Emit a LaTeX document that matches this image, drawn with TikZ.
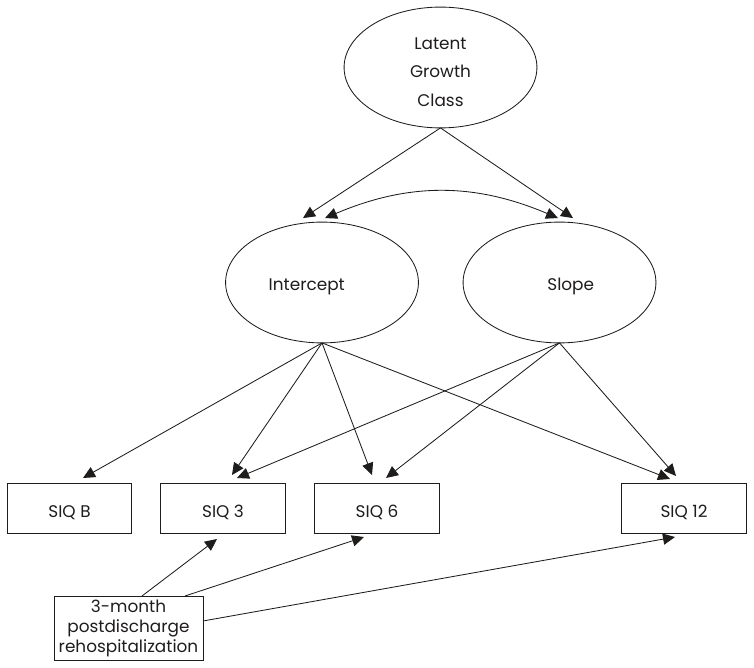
\documentclass[tikz,border=0pt]{standalone}
\usepackage{fontspec}
\setmainfont{Poppins}
\usetikzlibrary{arrows.meta,calc,shapes.geometric}
\definecolor{LineClr}{rgb}{0.12,0.11,0.11}

\begin{document}
\begin{tikzpicture}[x=0.025cm,y=-0.025cm,line width=0.6pt,color=LineClr,
  latent/.style={draw,ellipse,inner sep=0pt,outer sep=0pt,
    minimum width=4.82cm,minimum height=3.02cm},
  obs/.style={draw,rectangle,inner sep=0pt,outer sep=0pt,
    minimum width=3.12cm,minimum height=1.25cm,text height=14pt,text depth=0pt},
  tip/.tip={Triangle[length=3mm,width=2.8mm]},
  arr/.style={-tip},
  every node/.style={font=\fontsize{12}{14.2}\selectfont}]
\useasboundingbox (0,0) rectangle (754,668);

% latent variables
\node[latent,align=center,font=\fontsize{12}{20}\selectfont] (lgc) at (440.5,67.5)
  {\rule{0pt}{15pt}Latent\\Growth\\Class};
\node[latent,label={[xshift=-0.38cm,yshift=-0.1cm]center:Intercept}] (int) at (322,282.5) {};
\node[latent,label={[xshift=0.28cm,yshift=-0.1cm]center:Slope}] (slo) at (559.5,282.5) {};

% observed scores
\node[obs] (siqb) at (69.5,508) {SIQ B};
\node[obs] (siq3) at (223,508) {SIQ 3};
\node[obs] (siq6) at (377,508) {SIQ 6};
\node[obs] (siq12) at (684,508) {SIQ 12};
\node[draw,rectangle,inner sep=0pt,outer sep=0pt,minimum width=3.72cm,
  minimum height=1.6cm,align=center] (rehosp) at (128.5,628)
  {3-month\\postdischarge\\rehospitalization};

\draw[arr] (lgc.south) -- ($(int.north)+(-19,-4)$);
\draw[arr] (lgc.south) -- ($(slo.north)+(13.5,-4)$);
\draw[tip-tip] ($(int.north)+(3,-4)$) to[bend left=23] ($(slo.north)+(-1.5,-4)$);

\draw[arr] (int.south) -- ($(siqb.north)+(13.5,-5)$);
\draw[arr] (int.south) -- ($(siq3.north)+(9,-8)$);
\draw[arr] (int.south) -- ($(siq6.north)+(-5,-8)$);
\draw[arr] (int.south) -- ($(siq12.north)+(-14,-4)$);

\draw[arr] (slo.south) -- ($(siq3.north)+(14,-5)$);
\draw[arr] (slo.south) -- ($(siq6.north)+(9,-5)$);
\draw[arr] (slo.south) -- ($(siq12.north)+(-8,-7)$);

\draw[arr] ($(rehosp.north)+(13.5,0)$) -- ($(siq3.south)+(-6,6)$);
\draw[arr] ($(rehosp.north)+(56.5,0)$) -- ($(siq6.south)+(-13,4)$);
\draw[arr] ($(rehosp.east)+(0,-7)$) -- ($(siq12.south)+(-9,4)$);

\end{tikzpicture}
\end{document}
